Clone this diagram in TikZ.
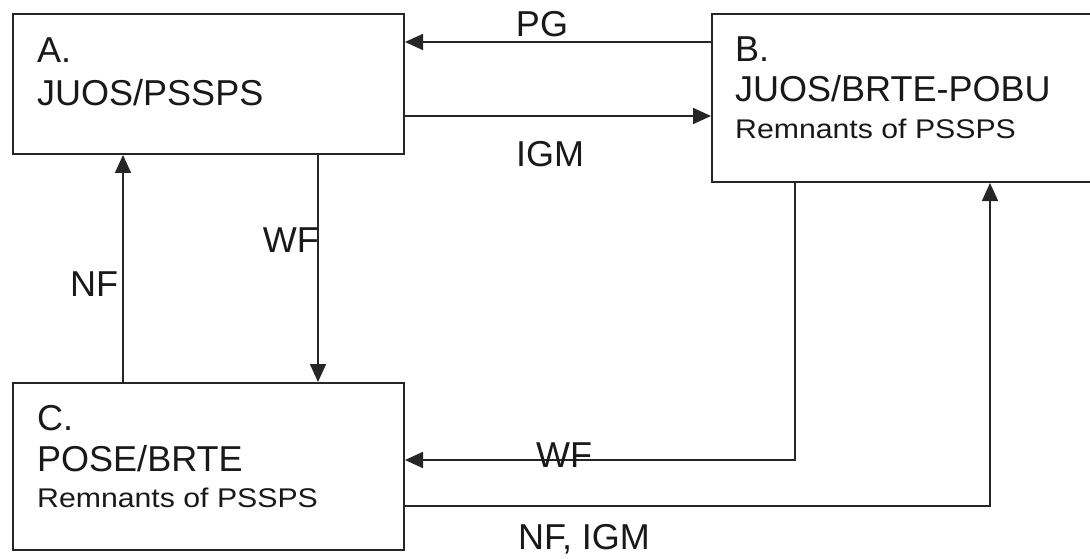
\documentclass[tikz,border=0pt]{standalone}
\usepackage{fontspec}
\setmainfont{Liberation Sans}
\usetikzlibrary{arrows.meta}
\newcommand{\smalltxt}[1]{\scalebox{1.12}[1]{\fontsize{27}{30}\selectfont #1}}
\begin{document}
\begin{tikzpicture}[x=1pt,y=-1pt,
  box/.style={draw=black!85, line width=2pt, inner sep=0, anchor=north west},
  big/.style={anchor=base west, inner sep=0, font=\fontsize{36}{40}\selectfont, text=black!90},
  sml/.style={anchor=base west, inner sep=0, text=black!90},
  lbl/.style={inner sep=0, font=\fontsize{36}{40}\selectfont, text=black!90},
  arr/.style={draw=black!85, line width=1.6pt, -{Triangle[length=18pt,width=16pt]}}]
\useasboundingbox (0,0) rectangle (1090,559);
\clip (0,0) rectangle (1090,559);
\fill[white] (0,0) rectangle (1090,559);
% boxes
\node[box, minimum width=391pt, minimum height=140pt] (A) at (12,13) {};
\node[box, minimum width=420pt, minimum height=168pt] (B) at (711,13) {};
\node[box, minimum width=391pt, minimum height=167pt] (C) at (12,382) {};
% texts
\node[big] (a1) at (37,63) {A.};
\node[big] (a2) at (37,106) {JUOS/PSSPS};
\node[big] (b1) at (735,62) {B.};
\node[big] (b2) at (735,102) {JUOS/BRTE-POBU};
\node[sml] (b3) at (735,139) {\smalltxt{Remnants of PSSPS}};
\node[big] (c1) at (37,430) {C.};
\node[big] (c2) at (37,471) {POSE/BRTE};
\node[sml] (c3) at (37,507) {\smalltxt{Remnants of PSSPS}};
% connector helpers
\coordinate (pgy) at (0,42);
\coordinate (igy) at (0,116);
\coordinate (wfx) at (318,0);
\coordinate (nfx) at (123,0);
\coordinate (bw) at (795,460);
\coordinate (ni) at (990,506);
% connectors
\draw[arr] (B.west |- pgy) -- (A.east |- pgy);
\draw[arr] (A.east |- igy) -- (B.west |- igy);
\draw[arr] (A.south -| wfx) -- (C.north -| wfx);
\draw[arr] (C.north -| nfx) -- (A.south -| nfx);
\draw[arr] (B.south -| bw) |- (C.east |- bw);
\draw[arr] (C.east |- ni) -| (B.south -| ni);
% labels
\node[lbl, anchor=base] (lpg) at (542,37) {PG};
\node[lbl, anchor=base] (lig) at (550,167) {IGM};
\node[lbl, anchor=base east] (lwf1) at (319,252) {WF};
\node[lbl, anchor=base west] (lnf) at (70,296) {NF};
\node[lbl, anchor=base] (lwf2) at (564,467) {WF};
\node[lbl, anchor=base] (lni) at (584,549) {NF, IGM};
\end{tikzpicture}
\end{document}
